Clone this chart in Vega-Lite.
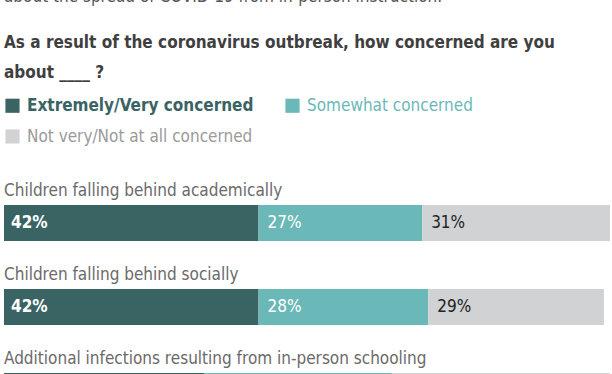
{
  "$schema": "https://vega.github.io/schema/vega-lite/v6.json",
  "width": 606,
  "height": 252,
  "padding": {"left": 4, "right": 2, "top": -12, "bottom": 0},
  "background": "white",
  "title": {
    "text": "about the spread of COVID-19 from in-person instruction.",
    "subtitle": ["As a result of the coronavirus outbreak, how concerned are you", "about ____ ?"],
    "anchor": "start",
    "frame": "group",
    "font": "DejaVu Sans Condensed",
    "fontSize": 17,
    "fontWeight": "normal",
    "color": "#555555",
    "subtitleFont": "DejaVu Sans Condensed",
    "subtitleFontSize": 17,
    "subtitleFontWeight": "bold",
    "subtitleColor": "#3f3f3f",
    "subtitleLineHeight": 30,
    "subtitlePadding": 29,
    "offset": 15
  },
  "datasets": {
    "rows": [
      {"cat": "Children falling behind academically", "resp": "Extremely/Very concerned", "pct": 0.42, "rank": 1},
      {"cat": "Children falling behind academically", "resp": "Somewhat concerned", "pct": 0.27, "rank": 2},
      {"cat": "Children falling behind academically", "resp": "Not very/Not at all concerned", "pct": 0.31, "rank": 3},
      {"cat": "Children falling behind socially", "resp": "Extremely/Very concerned", "pct": 0.42, "rank": 1},
      {"cat": "Children falling behind socially", "resp": "Somewhat concerned", "pct": 0.28, "rank": 2},
      {"cat": "Children falling behind socially", "resp": "Not very/Not at all concerned", "pct": 0.29, "rank": 3},
      {"cat": "Additional infections resulting from in-person schooling", "resp": "Extremely/Very concerned", "pct": 0.33, "rank": 1},
      {"cat": "Additional infections resulting from in-person schooling", "resp": "Somewhat concerned", "pct": 0.31, "rank": 2},
      {"cat": "Additional infections resulting from in-person schooling", "resp": "Not very/Not at all concerned", "pct": 0.36, "rank": 3}
    ]
  },
  "data": {"name": "rows"},
  "transform": [
    {"stack": "pct", "groupby": ["cat"], "sort": [{"field": "rank", "order": "ascending"}], "as": ["x0", "x1"]}
  ],
  "encoding": {
    "y": {
      "field": "cat",
      "type": "nominal",
      "sort": ["Children falling behind academically", "Children falling behind socially", "Additional infections resulting from in-person schooling"],
      "scale": {"paddingInner": 0, "paddingOuter": 0},
      "axis": null
    }
  },
  "layer": [
    {
      "mark": {"type": "bar", "height": 36, "yOffset": 12},
      "encoding": {
        "x": {"field": "x0", "type": "quantitative", "scale": {"domain": [0, 1], "nice": false}, "axis": null},
        "x2": {"field": "x1"},
        "color": {
          "field": "resp",
          "type": "nominal",
          "sort": ["Extremely/Very concerned", "Somewhat concerned", "Not very/Not at all concerned"],
          "scale": {
            "domain": ["Extremely/Very concerned", "Somewhat concerned", "Not very/Not at all concerned"],
            "range": ["#3a6464", "#6bb8b8", "#d1d2d4"]
          },
          "legend": {
            "title": null,
            "orient": "top",
            "direction": "horizontal",
            "columns": 2,
            "symbolType": "square",
            "symbolSize": 200,
            "symbolStrokeWidth": 0,
            "labelFont": "DejaVu Sans Condensed",
            "labelFontSize": 17,
            "labelOffset": 6,
            "labelLimit": 400,
            "columnPadding": 30,
            "rowPadding": 13,
            "padding": 0,
            "offset": 24,
            "encode": {
              "labels": {
                "update": {
                  "fill": {"signal": "datum.label == 'Extremely/Very concerned' ? '#3a6464' : datum.label == 'Somewhat concerned' ? '#6bb8b8' : '#9a9a9a'"},
                  "fontWeight": {"signal": "datum.label == 'Extremely/Very concerned' ? 'bold' : 'normal'"}
                }
              }
            }
          }
        }
      }
    },
    {
      "transform": [{"filter": "datum.rank == 1"}],
      "mark": {"type": "text", "align": "left", "baseline": "alphabetic", "yOffset": -15, "font": "DejaVu Sans Condensed", "fontSize": 17, "color": "#6a6a6a"},
      "encoding": {
        "x": {"datum": 0, "type": "quantitative"},
        "text": {"field": "cat"}
      }
    },
    {
      "transform": [{"filter": "datum.rank == 1"}],
      "mark": {"type": "text", "align": "left", "baseline": "middle", "yOffset": 12, "dx": 7, "font": "DejaVu Sans Condensed", "fontSize": 17, "fontWeight": "bold", "color": "white"},
      "encoding": {
        "x": {"field": "x0", "type": "quantitative"},
        "text": {"field": "pct", "type": "quantitative", "format": ".0%"}
      }
    },
    {
      "transform": [{"filter": "datum.rank > 1"}],
      "mark": {"type": "text", "align": "left", "baseline": "middle", "yOffset": 12, "dx": 9, "font": "DejaVu Sans Condensed", "fontSize": 17},
      "encoding": {
        "x": {"field": "x0", "type": "quantitative"},
        "text": {"field": "pct", "type": "quantitative", "format": ".0%"},
        "color": {"condition": {"test": "datum.rank == 3", "value": "#222222"}, "value": "white"}
      }
    }
  ],
  "config": {"view": {"stroke": null}}
}
